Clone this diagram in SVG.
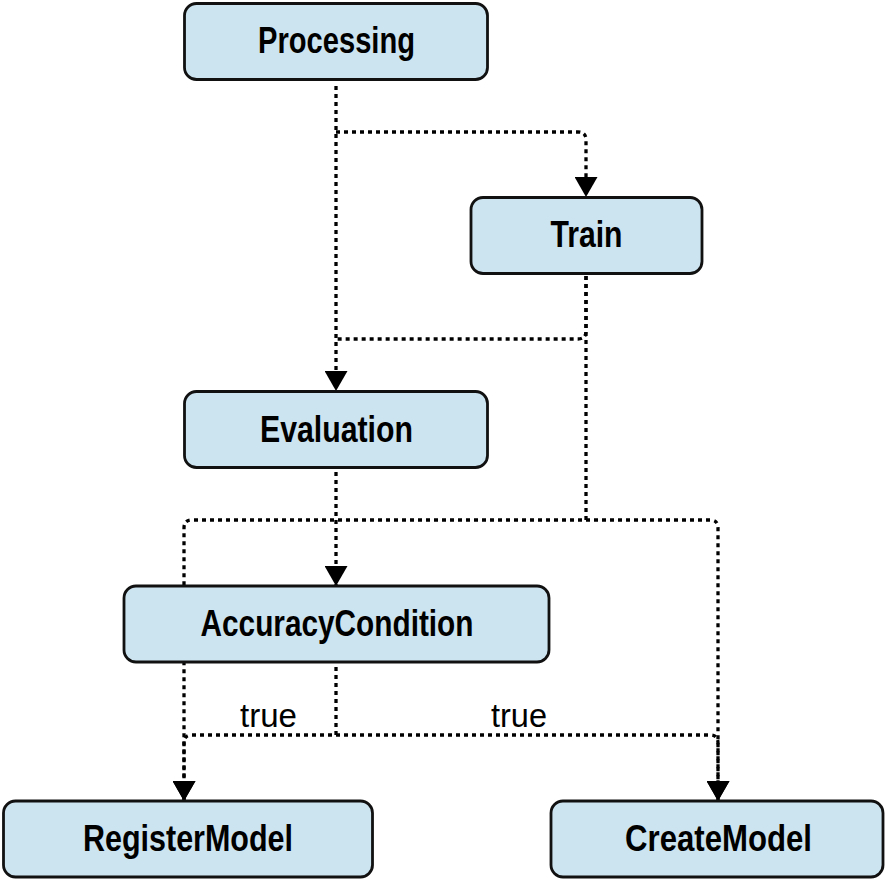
<svg xmlns="http://www.w3.org/2000/svg" width="887" height="881" viewBox="0 0 887 881">
<style>
.box{fill:#cce3f0;stroke:#111;stroke-width:2.8}
.lbl{font-family:"Liberation Sans",Arial,sans-serif;font-size:36px;font-weight:bold;fill:#000;text-anchor:middle}
.edge{fill:none;stroke:#000;stroke-width:3.3;stroke-dasharray:4 4}
.elbl{font-family:"Liberation Sans",Arial,sans-serif;font-size:34px;fill:#000;text-anchor:middle}
</style>
<defs>
<marker id="arr" markerUnits="userSpaceOnUse" markerWidth="20" markerHeight="23" viewBox="0 0 20 23" refX="20" refY="11.5" orient="auto">
<path d="M0,0 L20,11.5 L0,23 Z" fill="#000"/>
</marker>
</defs>
<rect width="887" height="881" fill="#fff"/>
<g id="connectors">
<path class="edge" d="M336,86 V391" marker-end="url(#arr)"/>
<path class="edge" d="M336,132 H578 Q586,132 586,140 V197" marker-end="url(#arr)"/>
<path class="edge" d="M586,276 V331 Q586,339 578,339 H336"/>
<path class="edge" d="M586,276 V520 H192 Q184,520 184,528 V801" marker-end="url(#arr)"/>
<path class="edge" d="M586,520 H710 Q718,520 718,528 V801" marker-end="url(#arr)"/>
<path class="edge" d="M336,472 V586" marker-end="url(#arr)"/>
<path class="edge" d="M336,667 V735 H192 Q184,735 184,743 V801" marker-end="url(#arr)"/>
<path class="edge" d="M336,735 H710 Q718,735 718,743 V801" marker-end="url(#arr)"/>
<text class="elbl" x="268.5" y="727" textLength="57" lengthAdjust="spacingAndGlyphs">true</text>
<text class="elbl" x="519" y="727" textLength="56" lengthAdjust="spacingAndGlyphs">true</text>
</g>
<g id="Processing">
<rect class="box" x="184.5" y="3.5" width="303" height="76" rx="12"/>
<text class="lbl" x="336.5" y="53" textLength="157" lengthAdjust="spacingAndGlyphs">Processing</text>
</g>
<g id="Train">
<rect class="box" x="471" y="197.5" width="231" height="76" rx="12"/>
<text class="lbl" x="586.5" y="247" textLength="72" lengthAdjust="spacingAndGlyphs">Train</text>
</g>
<g id="Evaluation">
<rect class="box" x="184.5" y="391.5" width="303" height="76" rx="12"/>
<text class="lbl" x="336.5" y="442" textLength="153" lengthAdjust="spacingAndGlyphs">Evaluation</text>
</g>
<g id="AccuracyCondition">
<rect class="box" x="124" y="586" width="425" height="76" rx="12"/>
<text class="lbl" x="337" y="636" textLength="273" lengthAdjust="spacingAndGlyphs">AccuracyCondition</text>
</g>
<g id="RegisterModel">
<rect class="box" x="3.5" y="801" width="369" height="76" rx="12"/>
<text class="lbl" x="188" y="851" textLength="210" lengthAdjust="spacingAndGlyphs">RegisterModel</text>
</g>
<g id="CreateModel">
<rect class="box" x="551" y="801" width="332" height="76" rx="12"/>
<text class="lbl" x="718.5" y="851" textLength="187" lengthAdjust="spacingAndGlyphs">CreateModel</text>
</g>
</svg>
